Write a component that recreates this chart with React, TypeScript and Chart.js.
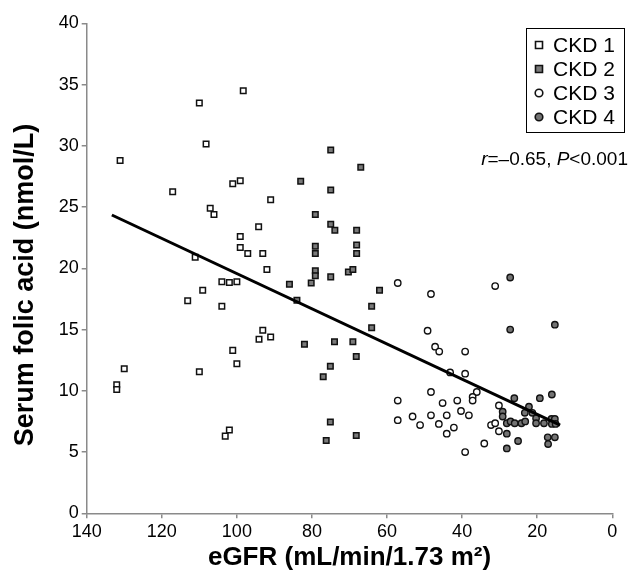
import React, { useEffect, useRef } from 'react';
import { Chart, registerables } from 'chart.js';

Chart.register(...registerables);

// ---- data ----
const ckd1Egfr = [131.1, 117.1, 110.0, 108.2, 98.3, 101.1, 99.1, 107.1, 106.1, 99.1, 99.1, 97.1, 94.2, 111.1, 113.1, 109.1, 104.0, 102.0, 100.0, 104.0, 94.1, 93.1, 91.0, 101.1, 100.0, 110.0, 130.0, 132.0, 132.0, 103.1, 102.0, 91.0, 93.1, 92.0];
const ckd1Folate = [28.8, 26.25, 33.5, 30.15, 34.5, 26.9, 27.15, 24.9, 24.4, 22.6, 21.7, 21.2, 23.4, 20.9, 17.35, 18.2, 18.9, 18.85, 18.9, 16.9, 14.2, 14.95, 14.4, 13.3, 12.2, 11.55, 11.8, 10.5, 10.1, 6.3, 6.8, 25.6, 21.2, 19.9];

const ckd2Egfr = [75.0, 67.0, 83.0, 75.0, 79.1, 75.0, 73.9, 68.1, 79.1, 79.1, 68.1, 68.1, 79.1, 79.1, 75.0, 70.3, 69.1, 86.0, 80.2, 62.0, 84.0, 64.1, 64.1, 82.0, 74.0, 69.1, 68.2, 75.1, 77.0, 75.1, 68.2, 76.2];
const ckd2Folate = [29.65, 28.25, 27.1, 26.4, 24.4, 23.6, 23.1, 23.1, 21.8, 21.2, 21.9, 21.2, 19.8, 19.4, 19.3, 19.7, 19.9, 18.7, 18.8, 18.2, 17.4, 16.9, 15.15, 13.8, 14.0, 14.0, 12.8, 12.0, 11.15, 7.45, 6.35, 5.95];

const ckd3Egfr = [57.15, 48.3, 31.2, 49.2, 47.2, 46.1, 39.2, 43.2, 39.2, 36.1, 37.2, 37.2, 48.3, 57.15, 45.2, 41.3, 40.3, 38.2, 44.1, 48.3, 53.2, 57.15, 51.2, 46.2, 42.2, 44.1, 39.2, 34.1, 30.2, 32.3, 31.2, 30.2];
const ckd3Folate = [18.8, 17.9, 18.55, 14.9, 13.6, 13.2, 13.2, 11.5, 11.4, 9.9, 9.5, 9.2, 9.9, 9.2, 9.0, 9.2, 8.35, 8.0, 8.0, 8.0, 7.9, 7.6, 7.2, 7.3, 7.0, 6.5, 5.0, 5.7, 8.8, 7.2, 7.35, 6.7];

const ckd4Egfr = [27.2, 27.2, 15.3, 26.1, 19.3, 16.1, 22.2, 23.3, 21.3, 20.3, 29.2, 29.2, 28.1, 27.1, 26.0, 24.2, 23.2, 20.3, 18.2, 16.2, 15.3, 16.1, 15.1, 28.1, 25.1, 28.1, 17.2, 15.3, 17.1];
const ckd4Folate = [19.25, 15.0, 15.4, 9.4, 9.4, 9.7, 8.7, 8.2, 8.2, 7.75, 8.3, 7.9, 7.35, 7.5, 7.35, 7.35, 7.5, 7.35, 7.35, 7.7, 7.7, 7.3, 7.3, 6.5, 5.9, 5.3, 6.2, 6.2, 5.65];

const fitEgfr = [133.3, 13.9];
const fitFolate = [24.35, 7.2];

const legendLabels = ['CKD 1', 'CKD 2', 'CKD 3', 'CKD 4'];
const xTitle = 'eGFR (mL/min/1.73 m\u00B2)';
const yTitle = 'Serum folic acid (nmol/L)';

const FONT = '"Liberation Sans", Arial, sans-serif';
const AXIS = '#8a8a8a';

const toPts = (xs: number[], ys: number[]) => xs.map((x, i) => ({ x, y: ys[i] }));

const legendStyles = [
  { shape: 'rect', fill: '#ffffff' },
  { shape: 'rect', fill: '#7a7a7a' },
  { shape: 'circle', fill: '#ffffff' },
  { shape: 'circle', fill: '#737373' },
];

const overlayPlugin = {
  id: 'overlay',
  afterDraw(chart: any) {
    const ctx = chart.ctx as CanvasRenderingContext2D;
    ctx.save();
    // y-axis title
    ctx.translate(26, 285);
    ctx.rotate(-Math.PI / 2);
    ctx.font = `bold 27px ${FONT}`;
    ctx.fillStyle = '#000';
    ctx.textAlign = 'center';
    ctx.textBaseline = 'middle';
    ctx.fillText(yTitle, 0, 0);
    ctx.restore();

    // legend
    ctx.save();
    ctx.strokeStyle = '#000';
    ctx.lineWidth = 1;
    ctx.strokeRect(526.5, 28.5, 98, 104);
    ctx.font = `21px ${FONT}`;
    ctx.textAlign = 'left';
    ctx.textBaseline = 'middle';
    legendLabels.forEach((lab, i) => {
      const cy = 45 + i * 24;
      const cx = 539;
      const st = legendStyles[i];
      ctx.fillStyle = st.fill;
      ctx.strokeStyle = '#111';
      ctx.lineWidth = 1.6;
      ctx.beginPath();
      if (st.shape === 'rect') {
        ctx.rect(cx - 3.5, cy - 3.5, 7, 7);
      } else {
        ctx.arc(cx, cy, 3.8, 0, Math.PI * 2);
      }
      ctx.fill();
      ctx.stroke();
      ctx.fillStyle = '#000';
      ctx.fillText(lab, 553, cy + 1);
    });
    ctx.restore();

    // annotation r=-0.65, P<0.001 (right aligned at x=628)
    ctx.save();
    ctx.fillStyle = '#000';
    ctx.textBaseline = 'alphabetic';
    const parts = [
      { t: 'r', it: true },
      { t: '=\u20130.65, ', it: false },
      { t: 'P', it: true },
      { t: '<0.001', it: false },
    ];
    const fontFor = (it: boolean) => `${it ? 'italic ' : ''}19px ${FONT}`;
    let total = 0;
    parts.forEach((p) => {
      ctx.font = fontFor(p.it);
      total += ctx.measureText(p.t).width;
    });
    let x = 628 - total;
    parts.forEach((p) => {
      ctx.font = fontFor(p.it);
      ctx.fillText(p.t, x, 165);
      x += ctx.measureText(p.t).width;
    });
    ctx.restore();
  },
};

export default function App() {
  const ref = useRef<HTMLCanvasElement | null>(null);

  useEffect(() => {
    if (!ref.current) return;
    const sq = { pointStyle: 'rect', pointRadius: 3.9, pointHoverRadius: 3.9, pointBorderWidth: 1.5, borderColor: '#111' };
    const ci = { pointStyle: 'circle', pointRadius: 3.2, pointHoverRadius: 3.2, pointBorderWidth: 1.4, borderColor: '#111' };
    const chart = new Chart(ref.current, {
      type: 'scatter',
      data: {
        datasets: [
          {
            type: 'line',
            label: 'fit',
            data: toPts(fitEgfr, fitFolate),
            borderColor: '#000',
            borderWidth: 3,
            pointRadius: 0,
            fill: false,
            order: 0,
          } as any,
          { label: legendLabels[0], data: toPts(ckd1Egfr, ckd1Folate), backgroundColor: '#ffffff', ...sq, order: 1 } as any,
          { label: legendLabels[1], data: toPts(ckd2Egfr, ckd2Folate), backgroundColor: '#7a7a7a', ...sq, order: 2 } as any,
          { label: legendLabels[2], data: toPts(ckd3Egfr, ckd3Folate), backgroundColor: '#ffffff', ...ci, order: 3 } as any,
          { label: legendLabels[3], data: toPts(ckd4Egfr, ckd4Folate), backgroundColor: '#737373', ...ci, order: 4 } as any,
        ],
      },
      options: {
        animation: false,
        responsive: true,
        maintainAspectRatio: false,
        layout: { padding: { top: 23.3, right: 24.7, left: 0, bottom: 0 } },
        plugins: { legend: { display: false }, tooltip: { enabled: false } },
        scales: {
          x: {
            type: 'linear',
            min: 0,
            max: 140,
            reverse: true,
            border: { display: true, color: AXIS, width: 1.5 },
            grid: { drawOnChartArea: false, drawTicks: true, tickLength: 5, color: AXIS, lineWidth: 1.5 },
            ticks: { stepSize: 20, color: '#000', padding: 3, font: { family: FONT, size: 18 } },
            title: {
              display: true,
              text: xTitle,
              color: '#000',
              font: { family: FONT, size: 26, weight: 'bold' },
              padding: { top: 0, bottom: 5 },
            },
            afterFit: (s: any) => {
              s.height = 64.7;
            },
          },
          y: {
            type: 'linear',
            min: 0,
            max: 40,
            border: { display: true, color: AXIS, width: 1.5 },
            grid: { drawOnChartArea: false, drawTicks: true, tickLength: 5, color: AXIS, lineWidth: 1.5 },
            ticks: { stepSize: 5, color: '#000', padding: 3, font: { family: FONT, size: 18 } },
            afterFit: (s: any) => {
              s.width = 86.7;
            },
          },
        },
      } as any,
      plugins: [overlayPlugin],
    });
    return () => chart.destroy();
  }, []);

  return (
    <div style={{ position: 'fixed', left: 0, top: 0, width: 637, height: 578, background: '#fff' }}>
      <canvas ref={ref} />
    </div>
  );
}
